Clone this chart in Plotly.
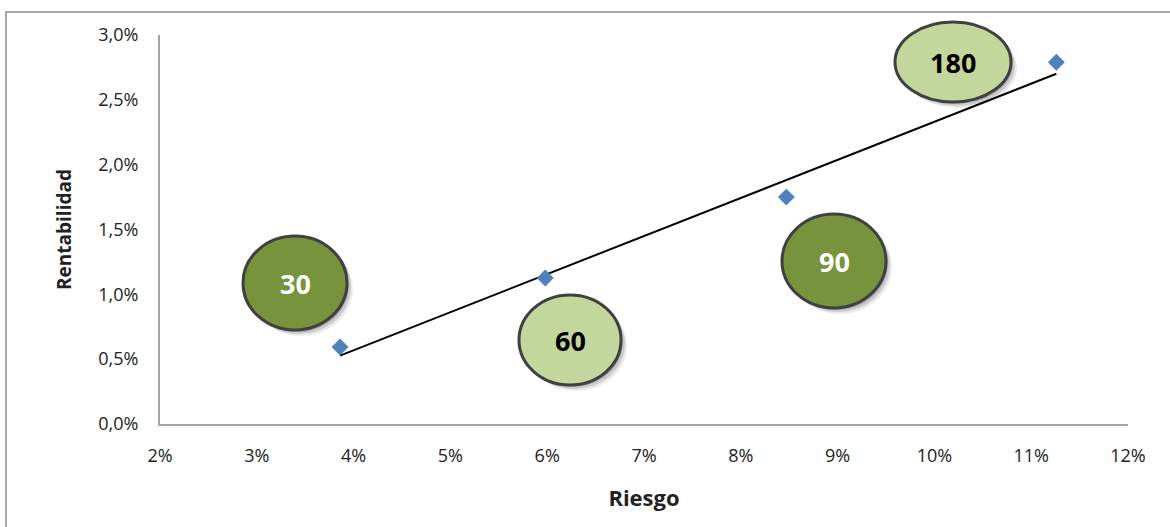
import numpy as np
import plotly.graph_objects as go

# Data
riesgo = [0.0386, 0.0598, 0.0847, 0.1126]
rentabilidad = [0.00594, 0.01126, 0.0175, 0.0279]
plazos = ["30", "60", "90", "180"]
x_ticks = [0.02, 0.03, 0.04, 0.05, 0.06, 0.07, 0.08, 0.09, 0.10, 0.11, 0.12]
y_ticks = [0.0, 0.005, 0.010, 0.015, 0.020, 0.025, 0.030]

W, H = 1170, 527
L, R, T, B = 160, 1128, 35, 424
X0, X1, Y0, Y1 = 0.02, 0.12, 0.0, 0.03


def px_(px):
    return (px - L) / (R - L)


def py_(py):
    return (B - py) / (B - T)


# Linear trendline (least squares) over data range
coef = np.polyfit(riesgo, rentabilidad, 1)
tx = [min(riesgo), max(riesgo)]
ty = [coef[0] * v + coef[1] for v in tx]

fig = go.Figure()
fig.add_trace(go.Scatter(x=tx, y=ty, mode="lines",
                         line=dict(color="black", width=2),
                         hoverinfo="skip", showlegend=False))
fig.add_trace(go.Scatter(x=riesgo, y=rentabilidad, mode="markers",
                         marker=dict(symbol="diamond", size=13, color="#4F81BD"),
                         showlegend=False))

DARK, LIGHT = "#77933C", "#C3D69B"
# label bubbles: (label index, center px x, center px y, rx, ry, fill, text color)
bubbles = [
    (0, 295, 283, 52, 47, DARK, "white"),
    (1, 570, 340, 51, 45, LIGHT, "black"),
    (2, 834, 261, 52, 47, DARK, "white"),
    (3, 953, 62, 58, 40, LIGHT, "black"),
]

shapes = []
annotations = []
for i, cx, cy, rx, ry, fill, tc in bubbles:
    # soft shadow
    for off, op in [(6, 0.08), (4, 0.13), (2, 0.18)]:
        shapes.append(dict(type="circle", xref="paper", yref="paper",
                           x0=px_(cx - rx + off), x1=px_(cx + rx + off),
                           y0=py_(cy + ry + off), y1=py_(cy - ry + off),
                           fillcolor="rgba(0,0,0,%s)" % op, line=dict(width=0),
                           layer="above"))
    shapes.append(dict(type="circle", xref="paper", yref="paper",
                       x0=px_(cx - rx), x1=px_(cx + rx),
                       y0=py_(cy + ry), y1=py_(cy - ry),
                       fillcolor=fill, line=dict(color="#404040", width=3),
                       layer="above"))
    annotations.append(dict(x=px_(cx), y=py_(cy), xref="paper", yref="paper",
                            xanchor="center", yanchor="middle",
                            text="<b>%s</b>" % plazos[i], showarrow=False,
                            font=dict(family="Open Sans", size=27, color=tc)))

# outer chart border
shapes.append(dict(type="rect", xref="paper", yref="paper",
                   x0=px_(6), x1=px_(W + 5),
                   y0=py_(H + 5), y1=py_(12),
                   line=dict(color="#8C8C8C", width=1.5), fillcolor="rgba(0,0,0,0)",
                   layer="below"))

fig.update_layout(
    width=W, height=H,
    margin=dict(l=L, r=W - R, t=T, b=H - B),
    paper_bgcolor="white", plot_bgcolor="white",
    separators=",.",
    shapes=shapes, annotations=annotations,
    font=dict(family="Open Sans", color="#222222"),
    xaxis=dict(range=[X0, X1], tickvals=x_ticks, tickformat=".0%",
               showgrid=False, zeroline=False, showline=True,
               linecolor="#A6A6A6", linewidth=2, ticks="",
               tickfont=dict(size=18), ticklabelstandoff=14,
               title=dict(text="<b>Riesgo</b>", font=dict(size=22), standoff=25)),
    yaxis=dict(range=[Y0, Y1], tickvals=y_ticks, tickformat=".1%",
               showgrid=False, zeroline=False, showline=True,
               linecolor="#A6A6A6", linewidth=2, ticks="",
               tickfont=dict(size=18), ticklabelstandoff=16,
               title=dict(text="<b>Rentabilidad</b>", font=dict(size=19), standoff=22)),
)

fig.write_html("out.html")
